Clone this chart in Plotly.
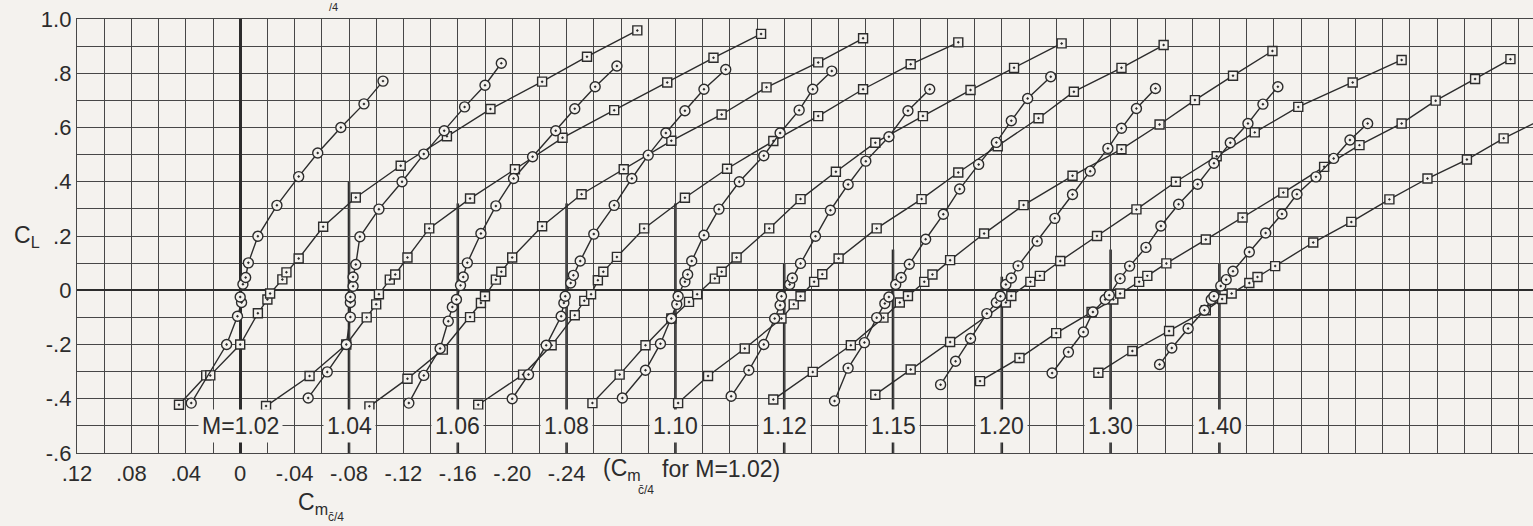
import plotly.graph_objects as go

# ---------------- data (Cm about c/4 for each Mach number, lift coefficient) ----------------
MACH_LABELS = ["M=1.02", "1.04", "1.06", "1.08", "1.10", "1.12", "1.15", "1.20", "1.30", "1.40"]
MACH_SHIFT = 0.08  # each Mach number's Cm origin is displaced by 0.08 on the chart

C102_CM = [0.036, 0.010, 0.002, -0.001, 0.000, -0.002, -0.004, -0.006, -0.013, -0.027, -0.043, -0.057, -0.074, -0.091, -0.105]
C102_CL = [-0.416, -0.200, -0.096, -0.045, -0.025, 0.022, 0.047, 0.101, 0.199, 0.313, 0.419, 0.506, 0.600, 0.687, 0.771]
S102_CM = [0.045, 0.025, 0.022, 0.000, -0.013, -0.020, -0.022, -0.031, -0.034, -0.043, -0.061, -0.085, -0.118, -0.152, -0.184, -0.222, -0.255, -0.292]
S102_CL = [-0.422, -0.314, -0.314, -0.200, -0.085, -0.034, -0.012, 0.040, 0.066, 0.117, 0.234, 0.342, 0.459, 0.568, 0.668, 0.769, 0.861, 0.958]

C104_CM = [0.030, 0.016, 0.002, -0.001, -0.001, -0.001, -0.003, -0.003, -0.005, -0.008, -0.022, -0.039, -0.055, -0.070, -0.085, -0.100, -0.112]
C104_CL = [-0.397, -0.301, -0.200, -0.099, -0.045, -0.025, 0.015, 0.049, 0.095, 0.197, 0.299, 0.400, 0.502, 0.588, 0.676, 0.756, 0.837]
S104_CM = [0.061, 0.029, 0.002, -0.013, -0.020, -0.022, -0.030, -0.034, -0.043, -0.059, -0.089, -0.122, -0.157, -0.195, -0.234, -0.268, -0.303]
S104_CL = [-0.427, -0.316, -0.200, -0.100, -0.052, -0.015, 0.039, 0.058, 0.121, 0.228, 0.338, 0.446, 0.562, 0.664, 0.766, 0.857, 0.945]

C106_CM = [0.036, 0.025, 0.013, 0.007, 0.004, 0.001, -0.002, -0.004, -0.007, -0.017, -0.028, -0.041, -0.055, -0.072, -0.086, -0.101, -0.117]
C106_CL = [-0.416, -0.314, -0.215, -0.114, -0.062, -0.034, 0.018, 0.049, 0.101, 0.209, 0.311, 0.412, 0.492, 0.588, 0.669, 0.750, 0.827]
S106_CM = [0.065, 0.037, 0.011, -0.009, -0.017, -0.020, -0.028, -0.032, -0.040, -0.062, -0.091, -0.122, -0.157, -0.194, -0.227, -0.265, -0.298]
S106_CL = [-0.428, -0.326, -0.219, -0.099, -0.047, -0.022, 0.039, 0.068, 0.121, 0.236, 0.354, 0.446, 0.551, 0.648, 0.748, 0.840, 0.929]

C108_CM = [0.040, 0.028, 0.015, 0.004, 0.002, 0.001, -0.003, -0.005, -0.010, -0.020, -0.035, -0.048, -0.060, -0.073, -0.087, -0.101, -0.117]
C108_CL = [-0.400, -0.311, -0.203, -0.096, -0.047, -0.022, 0.027, 0.055, 0.108, 0.207, 0.313, 0.412, 0.498, 0.580, 0.662, 0.741, 0.814]
S108_CM = [0.065, 0.032, 0.011, -0.006, -0.013, -0.018, -0.023, -0.027, -0.037, -0.057, -0.087, -0.118, -0.152, -0.185, -0.218, -0.253, -0.288]
S108_CL = [-0.422, -0.311, -0.203, -0.092, -0.039, -0.015, 0.037, 0.068, 0.123, 0.228, 0.341, 0.448, 0.550, 0.642, 0.741, 0.833, 0.914]

C110_CM = [0.039, 0.022, 0.011, 0.003, -0.001, -0.002, -0.007, -0.009, -0.012, -0.021, -0.032, -0.047, -0.065, -0.077, -0.091, -0.101, -0.115]
C110_CL = [-0.397, -0.295, -0.197, -0.104, -0.052, -0.022, 0.031, 0.058, 0.108, 0.203, 0.299, 0.400, 0.496, 0.580, 0.664, 0.741, 0.808]
S110_CM = [0.061, 0.041, 0.022, 0.003, -0.010, -0.016, -0.029, -0.034, -0.045, -0.069, -0.092, -0.118, -0.147, -0.182, -0.217, -0.249, -0.284]
S110_CL = [-0.416, -0.311, -0.203, -0.104, -0.043, -0.015, 0.043, 0.068, 0.121, 0.228, 0.336, 0.437, 0.544, 0.642, 0.738, 0.820, 0.910]

C112_CM = [0.039, 0.026, 0.015, 0.007, 0.003, 0.002, -0.004, -0.006, -0.012, -0.023, -0.034, -0.047, -0.060, -0.077, -0.091, -0.107]
C112_CL = [-0.391, -0.295, -0.200, -0.104, -0.055, -0.022, 0.021, 0.045, 0.099, 0.199, 0.295, 0.390, 0.476, 0.566, 0.662, 0.741]
S112_CM = [0.078, 0.056, 0.029, 0.002, -0.007, -0.012, -0.022, -0.028, -0.040, -0.068, -0.101, -0.128, -0.157, -0.187, -0.213, -0.248, -0.279]
S112_CL = [-0.416, -0.316, -0.215, -0.104, -0.052, -0.022, 0.031, 0.059, 0.117, 0.228, 0.336, 0.434, 0.531, 0.634, 0.732, 0.820, 0.904]

C115_CM = [0.043, 0.033, 0.021, 0.012, 0.006, 0.003, -0.002, -0.006, -0.012, -0.024, -0.037, -0.049, -0.063, -0.076, -0.087, -0.099, -0.116]
C115_CL = [-0.408, -0.287, -0.193, -0.101, -0.049, -0.025, 0.021, 0.047, 0.096, 0.188, 0.280, 0.373, 0.464, 0.545, 0.625, 0.707, 0.787]
S115_CM = [0.088, 0.059, 0.031, 0.007, -0.005, -0.011, -0.023, -0.029, -0.042, -0.067, -0.096, -0.132, -0.168, -0.196, -0.222, -0.250, -0.279]
S115_CL = [-0.403, -0.301, -0.203, -0.101, -0.045, -0.021, 0.031, 0.058, 0.111, 0.209, 0.314, 0.422, 0.520, 0.611, 0.701, 0.791, 0.882]

C120_CM = [0.045, 0.034, 0.023, 0.011, 0.004, 0.001, -0.003, -0.007, -0.012, -0.026, -0.039, -0.052, -0.065, -0.078, -0.088, -0.099, -0.113]
C120_CL = [-0.348, -0.262, -0.178, -0.086, -0.045, -0.022, 0.021, 0.045, 0.090, 0.181, 0.265, 0.353, 0.439, 0.523, 0.597, 0.670, 0.744]
S120_CM = [0.093, 0.067, 0.038, -0.003, -0.007, -0.021, -0.028, -0.043, -0.070, -0.099, -0.128, -0.158, -0.186, -0.218, -0.258, -0.294]
S120_CL = [-0.385, -0.292, -0.191, -0.045, -0.021, 0.031, 0.053, 0.108, 0.200, 0.298, 0.400, 0.494, 0.582, 0.676, 0.766, 0.849]

C130_CM = [0.043, 0.031, 0.020, 0.013, 0.004, 0.001, -0.007, -0.014, -0.026, -0.037, -0.050, -0.064, -0.076, -0.088, -0.101, -0.112, -0.123]
C130_CL = [-0.305, -0.228, -0.154, -0.080, -0.034, -0.018, 0.043, 0.089, 0.158, 0.237, 0.317, 0.391, 0.468, 0.544, 0.615, 0.686, 0.750]
S130_CM = [0.096, 0.067, 0.040, 0.014, -0.002, -0.007, -0.021, -0.027, -0.041, -0.070, -0.097, -0.127, -0.157, -0.183, -0.214, -0.239, -0.268, -0.294]
S130_CL = [-0.335, -0.250, -0.158, -0.080, -0.034, -0.012, 0.031, 0.053, 0.099, 0.187, 0.268, 0.360, 0.455, 0.535, 0.615, 0.699, 0.779, 0.852]

C140_CM = [0.044, 0.035, 0.023, 0.011, 0.006, 0.004, -0.001, -0.005, -0.010, -0.022, -0.034, -0.046, -0.057, -0.071, -0.084, -0.096, -0.109]
C140_CL = [-0.274, -0.213, -0.141, -0.074, -0.034, -0.022, 0.016, 0.039, 0.070, 0.141, 0.211, 0.281, 0.354, 0.418, 0.486, 0.554, 0.615]
S140_CM = [0.089, 0.064, 0.037, 0.010, -0.002, -0.009, -0.022, -0.028, -0.041, -0.069, -0.097, -0.125, -0.153, -0.182, -0.209, -0.235]
S140_CL = [-0.304, -0.224, -0.150, -0.074, -0.032, -0.012, 0.027, 0.049, 0.089, 0.176, 0.252, 0.335, 0.412, 0.482, 0.560, 0.625]

X_TICK_VALUES = [0.12, 0.08, 0.04, 0.0, -0.04, -0.08, -0.12, -0.16, -0.20, -0.24]
X_TICK_TEXT = [".12", ".08", ".04", "0", "-.04", "-.08", "-.12", "-.16", "-.20", "-.24"]
Y_TICK_VALUES = [1.0, 0.8, 0.6, 0.4, 0.2, 0.0, -0.2, -0.4, -0.6]
Y_TICK_TEXT = ["1.0", ".8", ".6", ".4", ".2", "0", "-.2", "-.4", "-.6"]

CIRCLES = [(C102_CM, C102_CL), (C104_CM, C104_CL), (C106_CM, C106_CL), (C108_CM, C108_CL), (C110_CM, C110_CL),
           (C112_CM, C112_CL), (C115_CM, C115_CL), (C120_CM, C120_CL), (C130_CM, C130_CL), (C140_CM, C140_CL)]
SQUARES = [(S102_CM, S102_CL), (S104_CM, S104_CL), (S106_CM, S106_CL), (S108_CM, S108_CL), (S110_CM, S110_CL),
           (S112_CM, S112_CL), (S115_CM, S115_CL), (S120_CM, S120_CL), (S130_CM, S130_CL), (S140_CM, S140_CL)]

# ---------------- style ----------------
PAPER = "#f4f2ee"
INK = "#2c2c2c"
GRID = "#474747"
FONT = "Liberation Sans"
W, H = 1533, 526
ML, MR, MT, MB = 77, 0, 19, 73
X_LEFT = 0.12
X_RIGHT = X_LEFT - (W - ML - MR) / 1360.0
HEAVY_TOPS = [1.0, 0.40, 0.32, 0.32, 0.32, 0.10, 0.15, 0.05, 0.15, 0.10]

fig = go.Figure()

for k, (cm, cl) in enumerate(SQUARES):
    fig.add_trace(go.Scatter(
        x=[c - MACH_SHIFT * k for c in cm], y=cl, mode="lines+markers",
        line=dict(color=INK, width=1.4),
        marker=dict(symbol="square-dot", size=9, color=PAPER, line=dict(color=INK, width=1.4)),
        showlegend=False, hoverinfo="skip"))
for k, (cm, cl) in enumerate(CIRCLES):
    fig.add_trace(go.Scatter(
        x=[c - MACH_SHIFT * k for c in cm], y=cl, mode="lines+markers",
        line=dict(color=INK, width=1.4),
        marker=dict(symbol="circle-dot", size=10, color=PAPER, line=dict(color=INK, width=1.4)),
        showlegend=False, hoverinfo="skip"))

shapes = []
for k in range(1, len(MACH_LABELS)):
    xz = -MACH_SHIFT * k
    shapes.append(dict(type="line", xref="x", yref="y", x0=xz, x1=xz, y0=-0.6, y1=HEAVY_TOPS[k],
                       line=dict(color=INK, width=2.6), layer="below"))

annotations = []
for k, lab in enumerate(MACH_LABELS):
    annotations.append(dict(x=-MACH_SHIFT * k, y=-0.5, xref="x", yref="y", text=lab, showarrow=False,
                            font=dict(family=FONT, size=23, color=INK), bgcolor=PAPER, borderpad=3,
                            xanchor="center", yanchor="middle"))

def px(xp):
    return (xp - ML) / (W - ML - MR)

def py(yp):
    return (H - MB - yp) / (H - MT - MB)

annotations += [
    dict(x=px(12), y=0.2, xref="paper", yref="y", text="C<sub>L</sub>", showarrow=False,
         font=dict(family=FONT, size=23, color=INK), xanchor="left", yanchor="middle"),
    dict(x=px(296), y=py(503), xref="paper", yref="paper", text="C<sub>m</sub>", showarrow=False,
         font=dict(family=FONT, size=23, color=INK), xanchor="left", yanchor="middle"),
    dict(x=px(336), y=py(517), xref="paper", yref="paper", text="c\u0304/4", showarrow=False,
         font=dict(family=FONT, size=12, color=INK), xanchor="center", yanchor="middle"),
    dict(x=px(601), y=py(469), xref="paper", yref="paper", text="(C<sub>m</sub>", showarrow=False,
         font=dict(family=FONT, size=23, color=INK), xanchor="left", yanchor="middle"),
    dict(x=px(646), y=py(490), xref="paper", yref="paper", text="c\u0304/4", showarrow=False,
         font=dict(family=FONT, size=12, color=INK), xanchor="center", yanchor="middle"),
    dict(x=px(660), y=py(469), xref="paper", yref="paper", text="for M=1.02)", showarrow=False,
         font=dict(family=FONT, size=23, color=INK), xanchor="left", yanchor="middle"),
    dict(x=px(333), y=py(7), xref="paper", yref="paper", text="/4", showarrow=False,
         font=dict(family=FONT, size=11, color=INK), xanchor="center", yanchor="middle"),
]

fig.update_layout(
    width=W, height=H, margin=dict(l=ML, r=MR, t=MT, b=MB),
    paper_bgcolor=PAPER, plot_bgcolor=PAPER,
    font=dict(family=FONT, color=INK),
    shapes=shapes, annotations=annotations,
    xaxis=dict(range=[X_LEFT, X_RIGHT], tickmode="array", tickvals=X_TICK_VALUES, ticktext=X_TICK_TEXT,
               showgrid=True, gridcolor=GRID, gridwidth=1.4,
               minor=dict(tickmode="linear", tick0=0, dtick=0.02, showgrid=True,
                          gridcolor=GRID, gridwidth=1.4, ticks=""),
               zeroline=True, zerolinecolor=INK, zerolinewidth=3,
               showline=True, mirror=True, linecolor=GRID, linewidth=1.4,
               ticks="", tickfont=dict(family=FONT, size=22, color=INK), fixedrange=True),
    yaxis=dict(range=[-0.6, 1.0], tickmode="array", tickvals=Y_TICK_VALUES, ticktext=Y_TICK_TEXT,
               showgrid=True, gridcolor=GRID, gridwidth=1.4,
               minor=dict(tickmode="linear", tick0=0, dtick=0.1, showgrid=True,
                          gridcolor=GRID, gridwidth=1.4, ticks=""),
               zeroline=True, zerolinecolor=INK, zerolinewidth=2.4,
               showline=True, linecolor=GRID, linewidth=1.4,
               ticks="", tickfont=dict(family=FONT, size=22, color=INK), fixedrange=True),
)

fig.write_html("out.html")
